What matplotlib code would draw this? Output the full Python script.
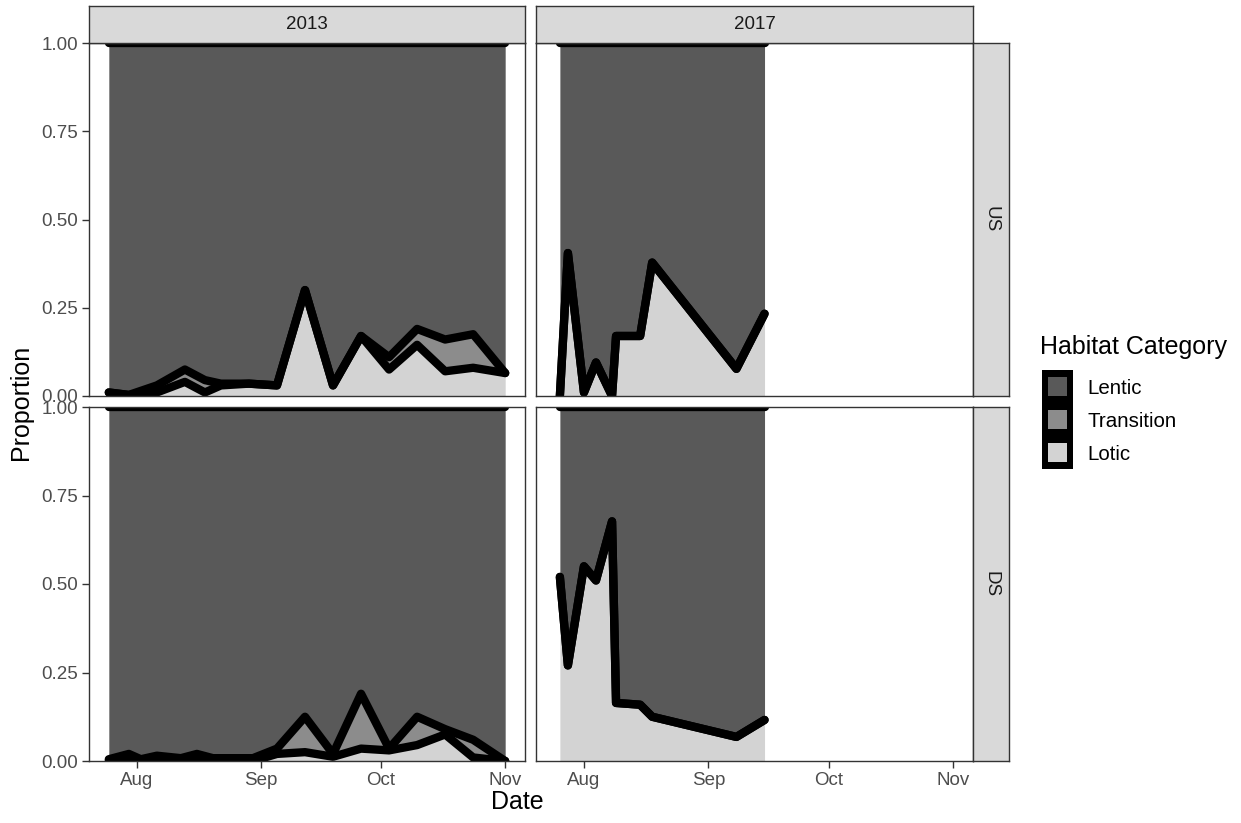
import numpy as np
import pandas as pd
import matplotlib
matplotlib.use("Agg")
import matplotlib.pyplot as plt
import matplotlib.dates as mdates
from matplotlib.patches import Rectangle

plt.rcParams['font.family'] = ['Liberation Sans', 'DejaVu Sans']

# ---------------- data ----------------
categories = ["Lentic", "Transition", "Lotic"]
colors = {"Lentic": "#595959", "Transition": "#8C8C8C", "Lotic": "#D3D3D3"}
years = ["2013", "2017"]
sites = ["US", "DS"]

us13_dates = ['07-25', '07-30', '08-06', '08-13', '08-18', '08-22', '08-29', '09-05',
              '09-12', '09-19', '09-26', '10-03', '10-10', '10-17', '10-24', '11-01']
us13_lotic = [0.01, 0.003, 0.01, 0.04, 0.01, 0.03, 0.035, 0.03,
              0.30, 0.03, 0.17, 0.075, 0.145, 0.07, 0.08, 0.065]
us13_trans = [0.0, 0.0, 0.02, 0.035, 0.035, 0.005, 0.0, 0.0,
              0.0, 0.0, 0.0, 0.035, 0.045, 0.09, 0.095, 0.0]

ds13_dates = ['07-25', '07-30', '08-02', '08-06', '08-12', '08-16', '08-20', '08-30', '09-05',
              '09-12', '09-19', '09-26', '10-03', '10-10', '10-17', '10-24', '11-01']
ds13_lotic = [0.0, 0.0, 0.0, 0.0, 0.0, 0.0, 0.0, 0.0, 0.02,
              0.025, 0.012, 0.035, 0.03, 0.045, 0.075, 0.01, 0.0]
ds13_trans = [0.005, 0.02, 0.005, 0.015, 0.008, 0.02, 0.008, 0.008, 0.015,
              0.10, 0.008, 0.155, 0.005, 0.08, 0.015, 0.05, 0.0]

d17_dates = ['07-26', '07-28', '08-01', '08-04', '08-08', '08-09', '08-15', '08-18', '09-08', '09-15']
us17_lotic = [0.0, 0.405, 0.01, 0.095, 0.0, 0.17, 0.17, 0.378, 0.077, 0.233]
us17_trans = [0.0, 0.0, 0.0, 0.0, 0.0, 0.0, 0.0, 0.0, 0.0, 0.0]
ds17_lotic = [0.52, 0.27, 0.55, 0.51, 0.677, 0.164, 0.159, 0.125, 0.068, 0.116]
ds17_trans = [0.0, 0.0, 0.0, 0.0, 0.0, 0.0, 0.0, 0.0, 0.0, 0.0]

y_ticks = [0.0, 0.25, 0.5, 0.75, 1.0]
y_ticklabels = ["0.00", "0.25", "0.50", "0.75", "1.00"]
x_ticks = ['08-01', '09-01', '10-01', '11-01']
x_ticklabels = ["Aug", "Sep", "Oct", "Nov"]

panels = {
    ("US", "2013"): (us13_dates, us13_lotic, us13_trans),
    ("US", "2017"): (d17_dates, us17_lotic, us17_trans),
    ("DS", "2013"): (ds13_dates, ds13_lotic, ds13_trans),
    ("DS", "2017"): (d17_dates, ds17_lotic, ds17_trans),
}


def to_dt(md):
    return pd.to_datetime(["2000-" + m for m in md])


# ---------------- layout ----------------
W, H = 1241, 823
fig = plt.figure(figsize=(W / 100, H / 100), dpi=100)


def fx(px):
    return px / W


def fy(py):
    return 1 - py / H


col_x = {"2013": (89, 525), "2017": (536, 973)}
row_y = {"US": (43, 396), "DS": (407, 761)}

all_dates = to_dt(us13_dates + ds13_dates + d17_dates)
dmin = mdates.date2num(all_dates.min())
dmax = mdates.date2num(all_dates.max())
span = dmax - dmin
xlim = (dmin - 0.05 * span, dmax + 0.05 * span)

border_col = "#333333"
LW = 6.0

for site in sites:
    for yr in years:
        x0, x1 = col_x[yr]
        y0, y1 = row_y[site]
        ax = fig.add_axes([fx(x0), fy(y1), fx(x1 - x0), (y1 - y0) / H])
        dates, lotic, trans = panels[(site, yr)]
        xd = mdates.date2num(to_dt(dates))
        lot = np.array(lotic)
        tot = lot + np.array(trans)
        one = np.ones_like(lot)
        ax.fill_between(xd, 0, lot, color=colors["Lotic"], lw=0)
        ax.fill_between(xd, lot, tot, color=colors["Transition"], lw=0)
        ax.fill_between(xd, tot, one, color=colors["Lentic"], lw=0)
        for arr in (lot, tot, one):
            ax.plot(xd, arr, color="black", lw=LW, solid_joinstyle="round",
                    solid_capstyle="round")
        ax.set_xlim(*xlim)
        ax.set_ylim(0, 1)
        ax.set_xticks(mdates.date2num(to_dt(x_ticks)))
        ax.set_yticks(y_ticks)
        for sp in ax.spines.values():
            sp.set_color(border_col)
            sp.set_linewidth(1.0)
            sp.set_zorder(5)
        ax.tick_params(axis="both", length=5, width=1.0, color=border_col,
                       labelcolor="#4D4D4D", labelsize=13.5, pad=3)
        if yr == "2013":
            ax.set_yticklabels(y_ticklabels)
        else:
            ax.tick_params(axis="y", left=False, labelleft=False)
        if site == "DS":
            ax.set_xticklabels(x_ticklabels)
        else:
            ax.tick_params(axis="x", bottom=False, labelbottom=False)

# strips
strip_bg = "#D9D9D9"
for yr in years:
    x0, x1 = col_x[yr]
    sax = fig.add_axes([fx(x0), fy(43), fx(x1 - x0), 37 / H])
    sax.set_facecolor(strip_bg)
    sax.set_xticks([]); sax.set_yticks([])
    for sp in sax.spines.values():
        sp.set_color(border_col); sp.set_linewidth(1.0)
    sax.text(0.5, 0.5, yr, ha="center", va="center", fontsize=13.5,
             color="#1A1A1A", transform=sax.transAxes)
for site in sites:
    y0, y1 = row_y[site]
    sax = fig.add_axes([fx(973), fy(y1), fx(36), (y1 - y0) / H])
    sax.set_facecolor(strip_bg)
    sax.set_xticks([]); sax.set_yticks([])
    for sp in sax.spines.values():
        sp.set_color(border_col); sp.set_linewidth(1.0)
    sax.text(0.5, 0.5, site, ha="center", va="center", fontsize=13.5,
             color="#1A1A1A", rotation=-90, transform=sax.transAxes)

# axis titles
fig.text(fx(517), fy(802), "Date", ha="center", va="center", fontsize=18, color="black")
fig.text(fx(21), fy(402), "Proportion", ha="center", va="center", fontsize=18,
         rotation=90, color="black")

# legend
fig.text(fx(1040), fy(347), "Habitat Category", ha="left", va="center", fontsize=18)
key_top = 370
key_h = 33
for i, cat in enumerate(categories):
    ty = key_top + i * key_h
    fig.add_artist(Rectangle((fx(1042), fy(ty + key_h)), fx(31), key_h / H,
                             facecolor="black", edgecolor="none", transform=fig.transFigure))
    fig.add_artist(Rectangle((fx(1048), fy(ty + key_h - 7)), fx(19), (key_h - 14) / H,
                             facecolor=colors[cat], edgecolor="none", transform=fig.transFigure))
    fig.text(fx(1087), fy(ty + key_h / 2 + 2), cat, ha="left", va="center", fontsize=14.8)

fig.savefig("out.png", dpi=100)
